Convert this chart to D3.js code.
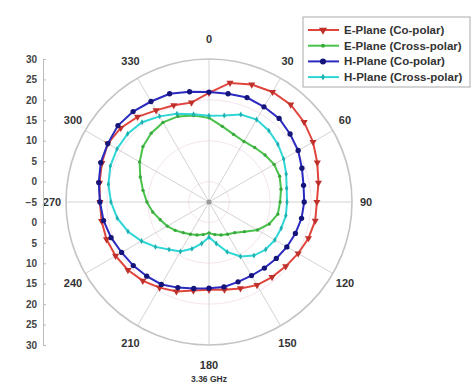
<!DOCTYPE html>
<html>
<head>
<meta charset="utf-8">
<script src="https://cdn.jsdelivr.net/npm/d3@7"></script>
<style>
  body { margin: 0; background: #fff; }
  svg { display: block; font-family: "Liberation Sans", Arial, sans-serif; }
</style>
</head>
<body>
<script>
// measured angles (deg) and gains (dB)
const angles = [0,10,20,30,40,50,60,70,80,90,100,110,120,130,140,150,160,170,180,190,200,210,220,230,240,250,260,270,280,290,300,310,320,330,340,350];
const ePlaneCo    = [21.7,24.6,25.6,26.1,26.1,25.4,24.4,23.2,22.2,21.4,21.4,20.9,20.2,19.5,19.0,18.5,17.5,16.8,16.5,17.0,18.3,19.2,20.2,20.9,21.4,21.7,21.7,21.7,22.2,22.9,23.6,23.2,22.2,20.9,20.2,19.7];
const ePlaneCross = [15.6,13.8,12.6,12.1,12.4,12.9,13.4,13.4,12.9,12.4,12.1,10.7,8.7,6.3,4.8,4.1,3.6,3.1,2.6,3.1,3.6,4.1,4.8,5.8,6.8,7.7,9.0,10.2,11.4,12.9,14.6,16.1,17.0,17.5,17.3,16.5];
const hPlaneCo    = [21.9,21.9,22.2,21.9,21.7,20.9,20.2,19.2,18.5,18.3,18.0,17.5,17.0,16.5,16.1,15.8,15.8,16.1,16.1,16.5,17.3,18.3,18.7,19.2,19.7,20.5,21.2,21.7,22.4,23.2,23.6,24.1,23.9,23.4,23.2,22.4];
const hPlaneCross = [16.1,16.5,17.8,18.3,17.8,17.0,16.1,15.1,14.3,14.1,14.1,13.8,13.6,13.1,12.1,10.4,8.0,5.3,3.6,5.3,7.2,9.0,10.2,12.1,14.1,16.1,17.8,19.0,20.0,20.7,21.0,21.0,20.5,19.2,18.0,16.8];

const seriesNames = ["E-Plane (Co-polar)","E-Plane (Cross-polar)","H-Plane (Co-polar)","H-Plane (Cross-polar)"];
const angleTicks = [0,30,60,90,120,150,180,210,240,270,300,330];
const radialTicksTop = [30,25,20,15,10,5,0,-5];
const radialTicksBottom = [0,5,10,15,20,25,30];
const freqLabel = "3.36 GHz";

const width = 471, height = 385;
const cx = 209, cy = 202, R = 143;
const rad = d => d * Math.PI / 180;

const r = d3.scaleLinear([-5, 30], [0, R]);

const svg = d3.select("body").append("svg")
  .attr("width", width)
  .attr("height", height);

const g = svg.append("g").attr("transform", `translate(${cx},${cy})`);

// faint inner rings
g.selectAll("circle.ring")
  .data([0, 10, 20])
  .join("circle")
  .attr("class", "ring")
  .attr("r", d => r(d))
  .attr("fill", "none")
  .attr("stroke", "#f6e4ef")
  .attr("stroke-width", 1);

// spokes
g.selectAll("line.spoke")
  .data(angleTicks)
  .join("line")
  .attr("class", "spoke")
  .attr("x1", 0).attr("y1", 0)
  .attr("x2", d => R * Math.sin(rad(d)))
  .attr("y2", d => -R * Math.cos(rad(d)))
  .attr("stroke", "#d4d4d4")
  .attr("stroke-width", 1);

// outer circle
g.append("circle")
  .attr("r", R)
  .attr("fill", "none")
  .attr("stroke", "#c4c4c4")
  .attr("stroke-width", 1.6);

g.append("circle").attr("r", 2.5).attr("fill", "#999");

// angle labels
g.selectAll("text.ang")
  .data(angleTicks)
  .join("text")
  .attr("class", "ang")
  .attr("x", d => (R + 14) * Math.sin(rad(d)))
  .attr("y", d => -(R + 20) * Math.cos(rad(d)))
  .attr("dy", "0.35em")
  .attr("text-anchor", "middle")
  .attr("font-size", 11)
  .attr("font-weight", "bold")
  .attr("fill", "#333")
  .text(d => d);

// series
const series = [
  { name: seriesNames[0], values: ePlaneCo,    color: "#e0453c", marker: d3.symbolTriangle, size: 22, rot: 180, fill: "#c0302a" },
  { name: seriesNames[1], values: ePlaneCross, color: "#49c24c", marker: d3.symbolCircle,   size: 9,  rot: 0,   fill: "#3aa83d" },
  { name: seriesNames[2], values: hPlaneCo,    color: "#2a2ac0", marker: d3.symbolCircle,   size: 22, rot: 0,   fill: "#14147a" },
  { name: seriesNames[3], values: hPlaneCross, color: "#2fd6d6", marker: d3.symbolDiamond,  size: 10, rot: 0,   fill: "#20b0b0" }
];

const radialLine = d3.lineRadial()
  .angle((d, i) => rad(angles[i]))
  .radius(d => r(d))
  .curve(d3.curveLinearClosed);

// draw cross-pol first, co-pol on top
[1, 3, 0, 2].forEach(k => {
  const s = series[k];
  g.append("path")
    .datum(s.values)
    .attr("d", radialLine)
    .attr("fill", "none")
    .attr("stroke", s.color)
    .attr("stroke-width", 2);
  g.selectAll(null)
    .data(s.values)
    .join("path")
    .attr("transform", (d, i) => {
      const a = rad(angles[i]);
      return `translate(${r(d) * Math.sin(a)},${-r(d) * Math.cos(a)}) rotate(${s.rot})`;
    })
    .attr("d", d3.symbol(s.marker, s.size))
    .attr("fill", s.fill);
});

// radial axis on the left
const axisX = 43;
const yTop = d3.scaleLinear([-5, 30], [cy, cy - R]);
const yBot = d3.scaleLinear([-5, 30], [cy, cy + R]);

[[yTop, radialTicksTop], [yBot, radialTicksBottom]].forEach(([sc, tv]) => {
  const ax = svg.append("g")
    .attr("transform", `translate(${axisX},0)`)
    .call(d3.axisLeft(sc).tickValues(tv).tickSize(-3).tickSizeOuter(0).tickPadding(6).tickFormat(d3.format("d")));
  ax.select(".domain").attr("stroke", "#bbb");
  ax.selectAll(".tick line").attr("stroke", "#bbb");
  ax.selectAll(".tick text")
    .attr("font-size", 10)
    .attr("font-weight", "bold")
    .attr("fill", "#444")
    .attr("font-family", "Liberation Sans, Arial, sans-serif");
});

// frequency label
svg.append("text")
  .attr("x", cx)
  .attr("y", 382)
  .attr("text-anchor", "middle")
  .attr("font-size", 8.5)
  .attr("font-weight", "bold")
  .attr("fill", "#333")
  .text(freqLabel);

// legend
const lg = svg.append("g").attr("transform", "translate(303,17)");
lg.append("rect")
  .attr("width", 167).attr("height", 70)
  .attr("fill", "#fff")
  .attr("stroke", "#aaa")
  .attr("stroke-width", 1);

const rows = lg.selectAll("g.row")
  .data(series)
  .join("g")
  .attr("class", "row")
  .attr("transform", (d, i) => `translate(0,${13 + i * 15.7})`);

rows.append("line")
  .attr("x1", 5).attr("x2", 36)
  .attr("stroke", d => d.color)
  .attr("stroke-width", 2);
rows.append("path")
  .attr("transform", d => `translate(20,0) rotate(${d.rot})`)
  .attr("d", d => d3.symbol(d.marker, d.size * 1.3)())
  .attr("fill", d => d.fill);
rows.append("text")
  .attr("x", 41)
  .attr("dy", "0.35em")
  .attr("font-size", 11.5)
  .attr("font-weight", "bold")
  .attr("fill", "#333")
  .text(d => d.name);
</script>
</body>
</html>
